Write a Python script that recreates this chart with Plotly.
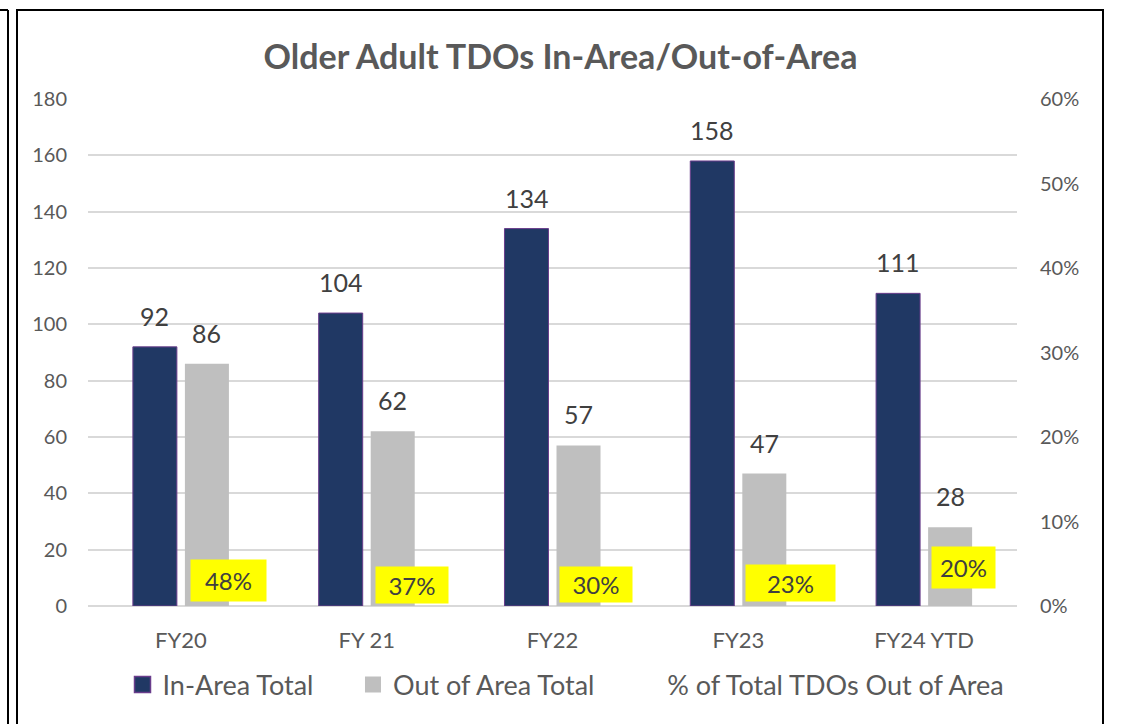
import plotly.graph_objects as go

# ---- data ----
categories = ["FY20", "FY 21", "FY22", "FY23", "FY24 YTD"]
in_area = [92, 104, 134, 158, 111]
out_of_area = [86, 62, 57, 47, 28]
pct_out = [0.48, 0.37, 0.30, 0.23, 0.20]

# ---- page geometry ----
W, H = 1121, 724
ML, MR, MT, MB = 88, 104, 99, 118
PW, PH = W - ML - MR, H - MT - MB

NAVY = "#203864"
NAVY_EDGE = "#6A3D8C"
GREY = "#BFBFBF"
TEXT = "#404040"
AXIS_TEXT = "#595959"
FONT = "Lato"
NBSP = "\u00a0"


def px_x(x):
    return (x - ML) / PW


def px_y(y):
    return 1 - (y - MT) / PH


fig = go.Figure()

fig.add_trace(go.Bar(
    x=categories, y=in_area, name="In-Area Total", showlegend=False,
    marker=dict(color=NAVY, line=dict(color=NAVY_EDGE, width=1)),
))
fig.add_trace(go.Bar(
    x=categories, y=out_of_area, name="Out of Area Total", showlegend=False,
    marker=dict(color=GREY, line=dict(width=0)),
))
# percentage series on the secondary axis (line itself not drawn)
fig.add_trace(go.Scatter(
    x=categories, y=pct_out, name="% of Total TDOs Out of Area",
    yaxis="y2", mode="lines", line=dict(color="rgba(0,0,0,0)", width=2),
    hoverinfo="skip", legendrank=3,
))
# larger square legend keys for the two bar series (trailing spaces widen the entry)
fig.add_trace(go.Scatter(
    x=[None], y=[None], name="In-Area Total" + NBSP * 5, mode="markers", legendrank=1,
    marker=dict(symbol="square", size=16, color=NAVY,
                line=dict(color=NAVY_EDGE, width=1.5)),
))
fig.add_trace(go.Scatter(
    x=[None], y=[None], name="Out of Area Total" + NBSP * 4, mode="markers", legendrank=2,
    marker=dict(symbol="square", size=16, color=GREY, line=dict(width=0)),
))

annotations = []
# value labels above the bars
for i, cat in enumerate(categories):
    for val, shift in ((in_area[i], -26), (out_of_area[i], 26)):
        annotations.append(dict(
            x=cat, y=val, xref="x", yref="y", xshift=shift, yshift=14,
            text=str(val), showarrow=False, yanchor="bottom",
            font=dict(family=FONT, size=25, color=TEXT),
        ))

# highlighted percentage labels (placed near the baseline)
pct_label_y = [8.9, 7.6, 7.5, 8.2, 13.8]
pct_label_dx = [48, 45, 43, 52, 39]
pct_label_w = [75, 72, 72, 89, 63]
pct_label_h = [41, 36, 35, 36, 41]
for i, cat in enumerate(categories):
    annotations.append(dict(
        x=cat, y=pct_label_y[i], xref="x", yref="y", xshift=pct_label_dx[i],
        text=f"{pct_out[i]:.0%}", showarrow=False, bgcolor="#FFFF00",
        width=pct_label_w[i], height=pct_label_h[i], borderpad=0,
        xanchor="center", yanchor="middle", valign="middle",
        font=dict(family=FONT, size=24, color=TEXT),
    ))

shapes = [
    # chart frame
    dict(type="rect", xref="paper", yref="paper",
         x0=px_x(17), x1=px_x(1103), y0=px_y(740), y1=px_y(10),
         line=dict(color="#000000", width=2), fillcolor="rgba(0,0,0,0)", layer="above"),
    # neighbouring frame edge on the left
    dict(type="line", xref="paper", yref="paper",
         x0=px_x(8), x1=px_x(8), y0=px_y(740), y1=px_y(10),
         line=dict(color="#000000", width=2)),
    dict(type="line", xref="paper", yref="paper",
         x0=px_x(-5), x1=px_x(8), y0=px_y(10), y1=px_y(10),
         line=dict(color="#000000", width=2)),
]

fig.update_layout(
    width=W, height=H,
    margin=dict(l=ML, r=MR, t=MT, b=MB),
    paper_bgcolor="white", plot_bgcolor="white",
    title=dict(
        text="<b>Older Adult TDOs In-Area/Out-of-Area</b>",
        x=0.5, xref="container", xanchor="center",
        y=1 - 57 / H, yref="container", yanchor="middle",
        font=dict(family=FONT, size=34, color=AXIS_TEXT),
    ),
    barmode="group", bargap=0.44, bargroupgap=0.154,
    showlegend=True,
    legend=dict(
        orientation="h", x=566 / W, xanchor="center", xref="container",
        y=1 - 685 / H, yref="container", yanchor="middle",
        font=dict(family=FONT, size=27, color=AXIS_TEXT),
        itemclick=False, itemsizing="trace",
    ),
    xaxis=dict(
        type="category", showgrid=False, showline=False, ticks="",
        tickfont=dict(family=FONT, size=22, color=AXIS_TEXT),
        ticklabelstandoff=19, automargin=False,
    ),
    yaxis=dict(
        range=[0, 180], dtick=20, showline=False, ticks="",
        gridcolor="#D9D9D9", gridwidth=1.5, zeroline=True,
        zerolinecolor="#D9D9D9", zerolinewidth=1.5,
        tickfont=dict(family=FONT, size=20, color=AXIS_TEXT),
        ticklabelstandoff=20, automargin=False,
    ),
    yaxis2=dict(
        range=[0, 0.6], dtick=0.1, tickformat=".0%", overlaying="y",
        side="right", showgrid=False, showline=False, ticks="", zeroline=False,
        tickfont=dict(family=FONT, size=20, color=AXIS_TEXT),
        ticklabelstandoff=22, automargin=False,
    ),
    annotations=annotations,
    shapes=shapes,
    hovermode=False,
)

fig.write_html("out.html")
